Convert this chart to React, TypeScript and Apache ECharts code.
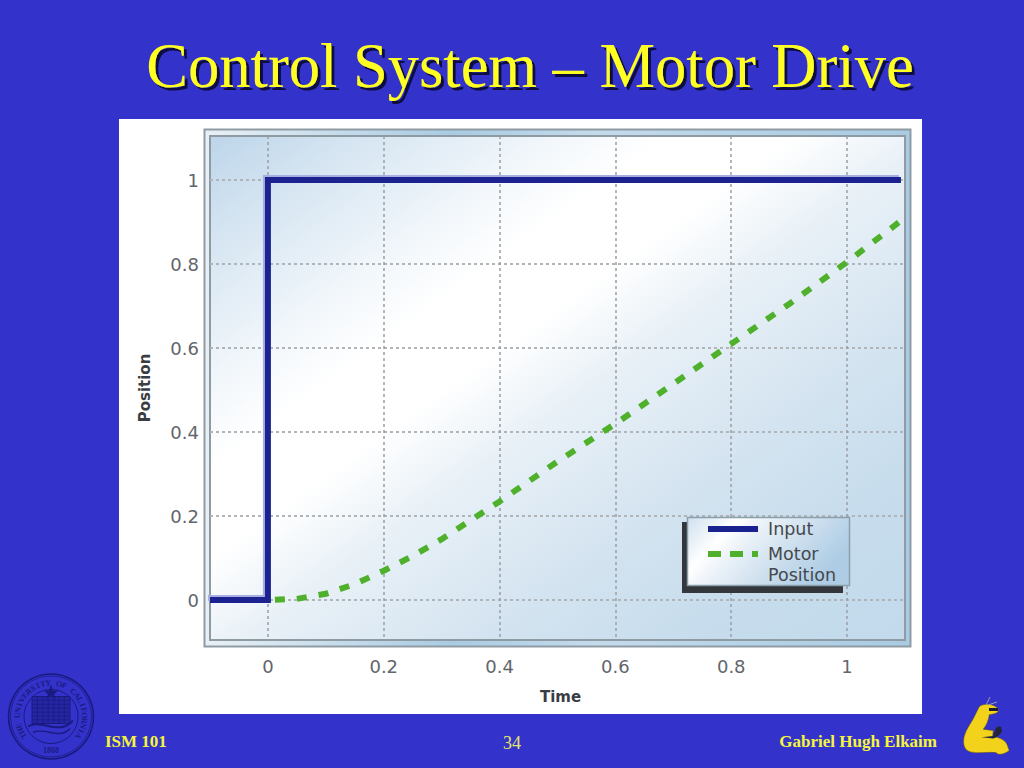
import React, { useEffect, useRef } from "react";
import * as echarts from "echarts";

const titleText = "Control System – Motor Drive";
const xTicks = [0, 0.2, 0.4, 0.6, 0.8, 1];
const yTicks = [0, 0.2, 0.4, 0.6, 0.8, 1];
const inputX = [-0.1, 0, 0, 1.093];
const inputY = [0, 0, 1, 1];
const motorX = [0, 0.05, 0.1, 0.15, 0.2, 0.25, 0.3, 0.35, 0.4, 0.5, 0.6, 0.7, 0.8, 0.9, 1, 1.09];
const motorY = [0, 0.003, 0.015, 0.038, 0.07, 0.105, 0.145, 0.19, 0.235, 0.33, 0.42, 0.515, 0.61, 0.705, 0.805, 0.9];
const sealName = "THE UNIVERSITY OF CALIFORNIA";
const slugBody =
  "M148 80 C160 70 185 70 200 82 C210 90 205 100 190 102 L178 104 C176 120 170 135 160 148 C170 150 180 150 190 152 L188 170 C205 172 225 178 232 195 L238 212 C225 222 205 228 198 218 C175 215 145 222 122 216 C104 212 98 195 102 172 C108 145 128 125 138 100 Z";
const slugBook = "M155 172 L190 168 L198 145 Q205 135 214 142 L216 155 Q205 172 190 176 Z";

echarts.graphic.registerShape("slugBody", echarts.graphic.extendPath(slugBody, {}));
echarts.graphic.registerShape("slugBook", echarts.graphic.extendPath(slugBook, {}));

const zip = (a: number[], b: number[]) => a.map((v, i) => [v, b[i]]);
const SEAL = "#1a1a80";
const LG = (x2: number, y2: number, stops: [number, string][]) =>
  new echarts.graphic.LinearGradient(0, 0, x2, y2, stops.map(([offset, color]) => ({ offset, color })));

function sealElements() {
  const cx = 51, cy = 716.5;
  const els: any[] = [];
  [[42.5, 1.6], [40.5, 0.8], [27, 1]].forEach(([r, w]) =>
    els.push({ type: "circle", shape: { cx, cy, r }, style: { fill: "none", stroke: SEAL, lineWidth: w } })
  );
  const n = sealName.length;
  sealName.split("").forEach((ch, i) => {
    const a = ((-125 + (250 * i) / (n - 1)) * Math.PI) / 180;
    els.push({
      type: "text", x: cx + 33.5 * Math.sin(a), y: cy - 33.5 * Math.cos(a), rotation: -a,
      style: { text: ch, fill: SEAL, font: "bold 8px 'Liberation Serif'", align: "center", verticalAlign: "middle" },
    });
  });
  els.push({
    type: "text", x: cx, y: cy + 34,
    style: { text: "1868", fill: SEAL, font: "bold 8px 'Liberation Serif'", align: "center", verticalAlign: "middle" },
  });
  els.push({ type: "rect", shape: { x: cx - 19, y: cy - 20, width: 38, height: 27 }, style: { fill: "#2626a4", stroke: SEAL, lineWidth: 1 } });
  for (let i = 1; i < 7; i++) {
    els.push({ type: "line", shape: { x1: cx - 19 + i * 5.4, y1: cy - 20, x2: cx - 19 + i * 5.4, y2: cy + 7 }, style: { stroke: SEAL, lineWidth: 0.7 } });
    els.push({ type: "line", shape: { x1: cx - 19, y1: cy - 20 + i * 3.9, x2: cx + 19, y2: cy - 20 + i * 3.9 }, style: { stroke: SEAL, lineWidth: 0.7 } });
  }
  els.push({ type: "bezierCurve", shape: { x1: cx - 23, y1: cy + 10, cpx1: cx - 10, cpy1: cy + 2, cpx2: cx + 8, cpy2: cy + 20, x2: cx + 22, y2: cy + 4 }, style: { fill: "none", stroke: SEAL, lineWidth: 2 } });
  els.push({ type: "bezierCurve", shape: { x1: cx - 18, y1: cy + 16, cpx1: cx - 6, cpy1: cy + 10, cpx2: cx + 8, cpy2: cy + 24, x2: cx + 19, y2: cy + 12 }, style: { fill: "none", stroke: SEAL, lineWidth: 1.4 } });
  els.push({ type: "polygon", shape: { points: [[cx, cy - 32], [cx + 2, cy - 26], [cx + 7, cy - 26], [cx + 3, cy - 22], [cx + 5, cy - 17], [cx, cy - 21], [cx - 5, cy - 17], [cx - 3, cy - 22], [cx - 7, cy - 26], [cx - 2, cy - 26]] }, style: { fill: SEAL } });
  return els.map((e) => ({ ...e, silent: true }));
}

const frameElements = [
  { type: "rect", z: -3, shape: { x: 119, y: 119, width: 803, height: 595 }, style: { fill: "#ffffff" } },
  { type: "rect", z: -2, shape: { x: 204.5, y: 129.5, width: 706, height: 517 },
    style: { fill: LG(1, 0, [[0, "#e9f0f5"], [0.35, "#a8cbe3"], [0.55, "#c4dbec"], [1, "#a8cbe3"]]), stroke: "#8f9ba3", lineWidth: 2 } },
  { type: "rect", z: -1, shape: { x: 210, y: 136, width: 695, height: 504 },
    style: { fill: LG(1, 1, [[0, "#bdd5ea"], [0.1, "#d4e4f1"], [0.25, "#f2f7fb"], [0.33, "#ffffff"], [0.42, "#ffffff"], [0.52, "#e9f1f7"], [0.7, "#d3e3f0"], [0.85, "#c6dcec"], [1, "#c2daec"]]), stroke: "#8f9ba3", lineWidth: 2 } },
];

const legendElements = [
  { type: "rect", z: 5, shape: { x: 682, y: 522, width: 161, height: 71 }, style: { fill: "#33363a" } },
  { type: "rect", z: 6, shape: { x: 687.5, y: 517.5, width: 162, height: 68 },
    style: { fill: LG(1, 0.4, [[0, "#cfe0ef"], [0.28, "#ffffff"], [0.4, "#eef4f9"], [0.75, "#c8dcec"], [1, "#aecde5"]]), stroke: "#8ba0ad", lineWidth: 1.5 } },
  { type: "line", z: 7, shape: { x1: 708, y1: 529, x2: 758, y2: 529 }, style: { stroke: "#1a2290", lineWidth: 6 } },
  { type: "line", z: 7, shape: { x1: 708, y1: 554, x2: 758, y2: 554 }, style: { stroke: "#4fb02c", lineWidth: 6, lineDash: [13, 9] } },
  { type: "text", z: 7, x: 768, y: 529, style: { text: "Input", fill: "#45484d", font: "500 17.5px 'DejaVu Sans'", verticalAlign: "middle" } },
  { type: "text", z: 7, x: 768, y: 564, style: { text: "Motor\nPosition", fill: "#45484d", font: "500 17.5px 'DejaVu Sans'", verticalAlign: "middle", lineHeight: 21 } },
];

const footerElements = [
  { type: "text", x: 105, y: 741, style: { text: "ISM 101", fill: "#f5f53c", font: "bold 17px 'Liberation Serif'", verticalAlign: "middle" } },
  { type: "text", x: 512, y: 743, style: { text: "34", fill: "#e6e66a", font: "18px 'Liberation Serif'", align: "center", verticalAlign: "middle" } },
  { type: "text", x: 937, y: 741, style: { text: "Gabriel Hugh Elkaim", fill: "#f5f53c", font: "bold 17px 'Liberation Serif'", align: "right", verticalAlign: "middle" } },
  { type: "slugBody", x: 930, y: 680, scaleX: 1 / 3, scaleY: 1 / 3, style: { fill: "#f2d21a", stroke: "#5c4a10", lineWidth: 1.5 } },
  { type: "slugBook", x: 930, y: 680, scaleX: 1 / 3, scaleY: 1 / 3, style: { fill: "#23233a" } },
  { type: "rect", shape: { x: 989, y: 708, width: 9, height: 3 }, style: { fill: "#1a1a30" } },
  { type: "line", shape: { x1: 986, y1: 705, x2: 990, y2: 697 }, style: { stroke: "#9a9ab0", lineWidth: 1 } },
  { type: "line", shape: { x1: 988, y1: 705, x2: 997, y2: 702 }, style: { stroke: "#9a9ab0", lineWidth: 1 } },
];

export default function App() {
  const ref = useRef<HTMLDivElement>(null);
  useEffect(() => {
    document.body.style.margin = "0";
    const chart = echarts.init(ref.current!, null, { renderer: "svg" });
    const tickFont = { color: "#62666b", fontFamily: "'DejaVu Sans'", fontSize: 18 };
    chart.setOption({
      animation: false,
      backgroundColor: "#3333cc",
      title: {
        text: titleText, left: 525, top: 29, textAlign: "center",
        textStyle: { color: "#ffff22", fontFamily: "'Liberation Serif'", fontWeight: "normal", fontSize: 62.5, textShadowColor: "#0a0a40", textShadowOffsetX: 3, textShadowOffsetY: 3, textShadowBlur: 1 },
      },
      grid: { left: 210, top: 136, width: 695, height: 504, show: false },
      xAxis: {
        type: "value", min: -0.1, max: 1.1, name: "Time", nameLocation: "center", nameGap: 49,
        nameTextStyle: { color: "#3a3d42", fontFamily: "'DejaVu Sans'", fontWeight: "bold", fontSize: 15, padding: [0, 0, 0, 6] },
        axisLine: { show: false }, axisTick: { show: false, customValues: xTicks },
        axisLabel: { ...tickFont, margin: 17, customValues: xTicks, showMinLabel: true, showMaxLabel: true, formatter: (v: number) => String(v) },
        splitLine: { show: true, lineStyle: { color: "#9a9fa5", width: 1.5, type: [3, 3] } },
      },
      yAxis: {
        type: "value", min: -0.095, max: 1.105, name: "Position", nameLocation: "center", nameGap: 58, nameRotate: 90,
        nameTextStyle: { color: "#3a3d42", fontFamily: "'DejaVu Sans'", fontWeight: "bold", fontSize: 15 },
        axisLine: { show: false }, axisTick: { show: false, customValues: yTicks },
        axisLabel: { ...tickFont, margin: 11, padding: [4, 0, 0, 0], customValues: yTicks, formatter: (v: number) => String(v) },
        splitLine: { show: true, lineStyle: { color: "#b0b5ba", width: 2, type: [3, 3] } },
      },
      series: [
        {
          name: "Input", type: "line", showSymbol: false, data: zip(inputX, inputY), z: 3,
          lineStyle: { color: "#1a2290", width: 6, join: "miter", shadowColor: "#a7aee2", shadowBlur: 0, shadowOffsetX: -2, shadowOffsetY: -2 },
        },
        {
          name: "Motor Position", type: "line", showSymbol: false, data: zip(motorX, motorY), z: 4,
          lineStyle: { color: "#4fb02c", width: 6, type: [10, 12], dashOffset: -7 },
        },
      ],
      graphic: { elements: [...frameElements, ...legendElements, ...footerElements, ...sealElements()] },
    });
    return () => chart.dispose();
  }, []);
  return <div ref={ref} style={{ width: 1024, height: 768, position: "absolute", left: 0, top: 0 }} />;
}
